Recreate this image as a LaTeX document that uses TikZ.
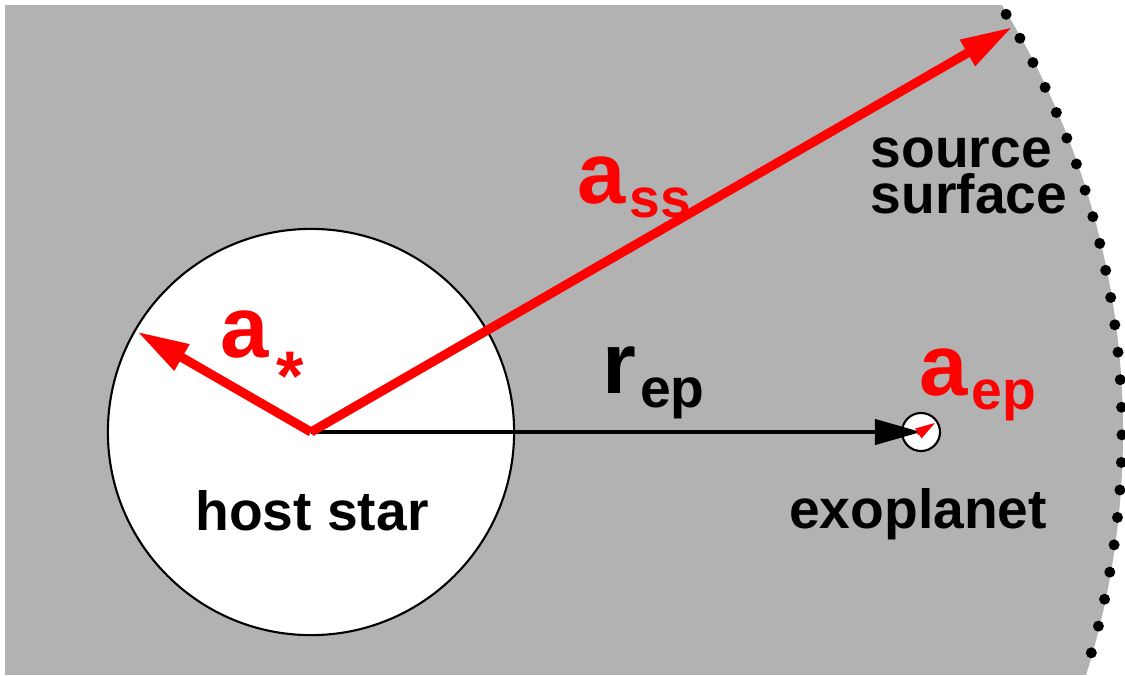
\documentclass[tikz,border=0pt]{standalone}
\usepackage{fontspec}
\setmainfont{Liberation Sans}
\usetikzlibrary{arrows.meta}

\newcommand{\lsub}[1]{\kern1pt\raisebox{-4pt}{\fontsize{15.7}{18}\selectfont #1}}
\newcommand{\lstar}{\kern2pt\raisebox{-12.3pt}{\fontsize{20}{22}\selectfont *}}

\tikzset{
  bigtxt/.style={font=\fontsize{24.7}{28}\selectfont\bfseries, inner sep=0pt},
  txt/.style={font=\fontsize{15.7}{12.8}\selectfont\bfseries, inner sep=0pt},
  redvec/.style={red, line width=2.6pt, -{Triangle[length=5.2mm,width=2.8mm]}},
  blackvec/.style={black, line width=1.2pt, -{Triangle[length=4.6mm,width=2.5mm]}},
}

\begin{document}
\begin{tikzpicture}[x=0.01cm, y=0.01cm]
\useasboundingbox (-311,-243) rectangle (814,432);
% Region inside the source surface
\begin{scope}
  \clip (0,0) circle (812);
  \fill[black!30] (-306,-243) rectangle (814,427);
\end{scope}
% Source surface (dotted)
\foreach \i in {0,...,24} {
  \pgfmathsetmacro{\ang}{31-1.95*\i}
  \fill[black] (\ang:811) circle (5.5);
}
% Host star and exoplanet
\node[circle, draw, fill=white, line width=0.6pt, minimum size=4.06cm, inner sep=0pt] (host) at (0,0) {};
\node[circle, draw, fill=white, line width=0.6pt, minimum size=0.38cm, inner sep=0pt] (planet) at (610,0) {};
\coordinate (sstip) at (30:810);
\coordinate (startip) at (150:201);
% Vectors
\draw[blackvec] (host.center) -- (planet.center);
\draw[redvec] (host.center) -- (sstip);
\draw[redvec] (host.center) -- (startip);
\draw[red, line width=0.8pt, -{Triangle[length=2mm,width=1.1mm]}] ([shift={(210:4)}]planet.center) -- ([shift={(33:17)}]planet.center);
% Labels
\node[bigtxt, red, anchor=base west] (astar) at (-91,75) {a\lstar};
\node[bigtxt, red, anchor=base west] (ass) at (266,229) {a\lsub{ss}};
\node[bigtxt, anchor=base west] (rep) at (291,39) {r\lsub{ep}};
\node[bigtxt, red, anchor=base west] (aep) at (608,37) {a\lsub{ep}};
\node[txt, align=left, anchor=base west] (surf) at (559,219) {source\\surface};
\node[txt, anchor=base] (hostlbl) at (1,-98) {host star};
\node[txt, anchor=base] (planetlbl) at (607,-96) {exoplanet};
\end{tikzpicture}
\end{document}
